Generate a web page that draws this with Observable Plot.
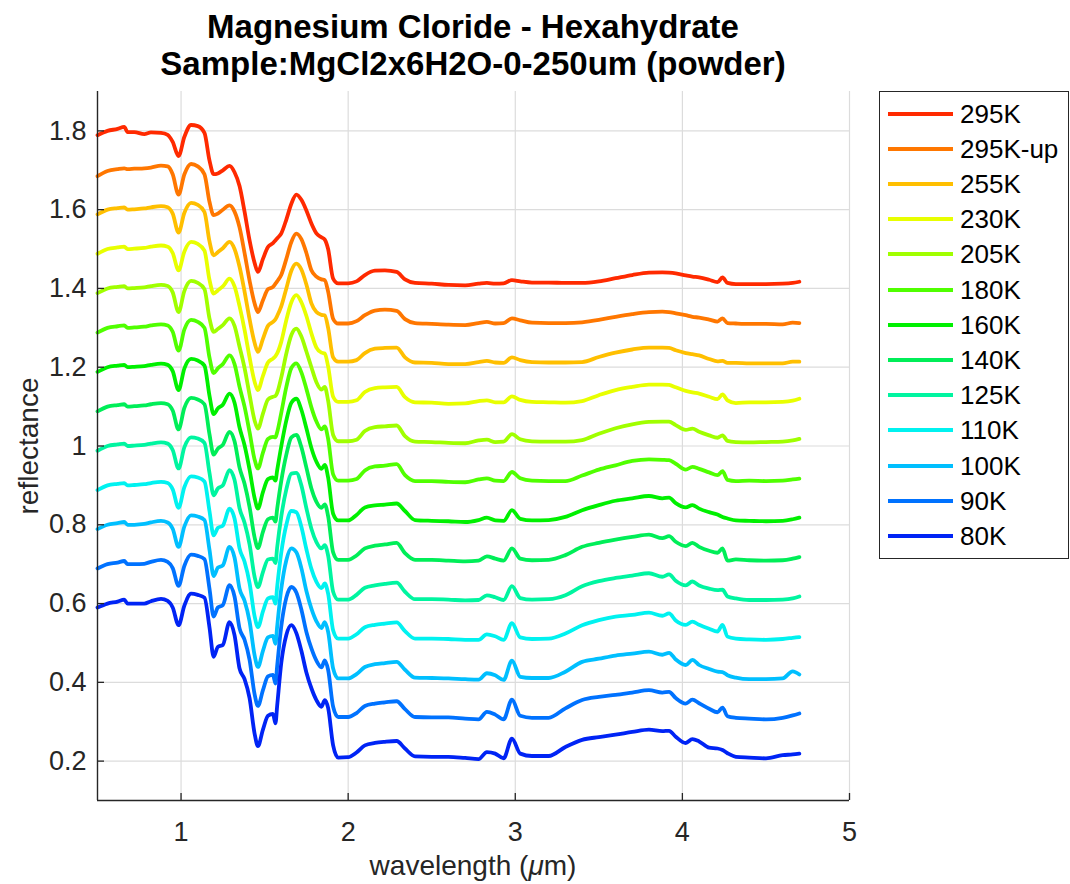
<!DOCTYPE html>
<html>
<head>
<meta charset="utf-8">
<script src="https://cdn.jsdelivr.net/npm/d3@7"></script>
<script src="https://cdn.jsdelivr.net/npm/@observablehq/plot@0.6"></script>
<style>
  html, body { margin: 0; padding: 0; background: #fff; }
  #wrap { position: relative; width: 1070px; height: 884px; overflow: hidden;
          font-family: "Liberation Sans", Arial, Helvetica, sans-serif; color: #262626; }
  #wrap svg { position: absolute; left: 0; top: 0; }
  .title { position: absolute; left: 97px; width: 752px; text-align: center;
           font-size: 33px; font-weight: bold; line-height: 37px; color: #000; white-space: nowrap; }
  .xlabel { position: absolute; left: 97px; width: 752px; top: 850px; text-align: center;
            font-size: 28px; line-height: 32px; white-space: nowrap; }
  .ylabel { position: absolute; width: 709px; left: -326px; top: 429.5px; text-align: center;
            font-size: 28px; line-height: 32px; transform: rotate(-90deg); transform-origin: 354.5px 16px; white-space: nowrap; }
  .legend { position: absolute; left: 879px; top: 91px; width: 190px; height: 468px;
            box-sizing: border-box; border: 1.2px solid #262626; background: #fff; }
  .lrow { position: absolute; left: 0; height: 32px; width: 100%; }
  .lsw { position: absolute; left: 8px; top: 14px; width: 65px; height: 4px; }
  .ltx { position: absolute; left: 80px; top: 0; font-size: 26px; line-height: 32px; color: #000; white-space: nowrap; }
</style>
</head>
<body>
<div id="wrap"></div>
<script>
// wavelength sampling (µm)
const wavelength = [0.50, 0.56, 0.62, 0.66, 0.68, 0.72, 0.78, 0.82, 0.88, 0.92, 0.95, 0.985, 1.02, 1.06, 1.10, 1.14, 1.17, 1.195, 1.22, 1.25, 1.29, 1.32, 1.35, 1.38, 1.41, 1.44, 1.46, 1.49, 1.52, 1.55, 1.565, 1.575, 1.60, 1.63, 1.66, 1.69, 1.72, 1.75, 1.78, 1.81, 1.84, 1.86, 1.88, 1.91, 1.94, 2.00,
  2.05, 2.10, 2.16, 2.22, 2.29, 2.34, 2.40, 2.50, 2.60, 2.70, 2.78, 2.83, 2.88, 2.93, 2.98, 3.03, 3.10, 3.20, 3.30, 3.40, 3.50, 3.60, 3.70, 3.80, 3.88, 3.92, 3.96, 4.02, 4.06, 4.10, 4.16, 4.21, 4.24, 4.27, 4.32, 4.40, 4.50, 4.60, 4.66, 4.70];

const seriesNames = ["295K", "295K-up", "255K", "230K", "205K", "180K", "160K", "140K", "125K", "110K", "100K", "90K", "80K"];
const seriesColors = ["#ff2a00", "#ff7700", "#ffbf00", "#e8ff00", "#a0ff00", "#50ff00", "#00f000", "#00ee58", "#00f5a0", "#00f2f0", "#00bfff", "#0072ff", "#0024f5"];

const r295K = [1.789, 1.800, 1.805, 1.810, 1.797, 1.797, 1.792, 1.796, 1.795, 1.790, 1.772, 1.736, 1.785, 1.815, 1.812, 1.795, 1.725, 1.690, 1.692, 1.700, 1.711, 1.695, 1.660, 1.595, 1.522, 1.465, 1.442, 1.475, 1.505, 1.515, 1.522, 1.527, 1.540, 1.575, 1.615, 1.638, 1.625, 1.598, 1.565, 1.540, 1.530, 1.524, 1.500, 1.425, 1.413, 1.413,
  1.418, 1.434, 1.445, 1.446, 1.442, 1.423, 1.414, 1.412, 1.409, 1.408, 1.412, 1.414, 1.412, 1.413, 1.421, 1.418, 1.415, 1.415, 1.414, 1.414, 1.418, 1.426, 1.434, 1.440, 1.441, 1.440, 1.438, 1.433, 1.430, 1.428, 1.422, 1.416, 1.428, 1.414, 1.411, 1.411, 1.411, 1.412, 1.414, 1.417];
const r295Kup = [1.685, 1.698, 1.703, 1.705, 1.703, 1.704, 1.705, 1.707, 1.712, 1.710, 1.690, 1.638, 1.690, 1.716, 1.710, 1.690, 1.620, 1.586, 1.590, 1.600, 1.611, 1.595, 1.555, 1.490, 1.420, 1.362, 1.340, 1.370, 1.398, 1.404, 1.412, 1.418, 1.435, 1.475, 1.518, 1.539, 1.525, 1.490, 1.446, 1.430, 1.423, 1.421, 1.392, 1.323, 1.311, 1.311,
  1.317, 1.332, 1.344, 1.346, 1.343, 1.322, 1.312, 1.310, 1.308, 1.307, 1.312, 1.315, 1.311, 1.312, 1.324, 1.319, 1.313, 1.312, 1.312, 1.314, 1.320, 1.328, 1.335, 1.340, 1.341, 1.340, 1.337, 1.332, 1.328, 1.326, 1.321, 1.316, 1.324, 1.312, 1.311, 1.310, 1.310, 1.309, 1.313, 1.312];
const r255K = [1.588, 1.600, 1.604, 1.606, 1.600, 1.601, 1.603, 1.606, 1.609, 1.606, 1.590, 1.542, 1.592, 1.617, 1.612, 1.594, 1.520, 1.484, 1.492, 1.502, 1.518, 1.500, 1.455, 1.392, 1.322, 1.262, 1.239, 1.272, 1.305, 1.315, 1.322, 1.330, 1.355, 1.400, 1.445, 1.463, 1.448, 1.410, 1.362, 1.340, 1.333, 1.332, 1.300, 1.225, 1.214, 1.214,
  1.218, 1.236, 1.247, 1.249, 1.250, 1.225, 1.212, 1.211, 1.208, 1.208, 1.213, 1.216, 1.212, 1.211, 1.225, 1.218, 1.213, 1.212, 1.212, 1.213, 1.226, 1.237, 1.245, 1.250, 1.250, 1.249, 1.243, 1.236, 1.233, 1.230, 1.221, 1.215, 1.216, 1.211, 1.211, 1.210, 1.210, 1.210, 1.214, 1.214];
const r230K = [1.488, 1.500, 1.504, 1.506, 1.500, 1.501, 1.503, 1.506, 1.509, 1.506, 1.490, 1.446, 1.494, 1.518, 1.513, 1.496, 1.422, 1.387, 1.395, 1.405, 1.425, 1.405, 1.355, 1.295, 1.225, 1.163, 1.142, 1.178, 1.212, 1.222, 1.228, 1.235, 1.265, 1.320, 1.365, 1.383, 1.365, 1.330, 1.286, 1.250, 1.237, 1.235, 1.202, 1.125, 1.112, 1.112,
  1.116, 1.137, 1.147, 1.149, 1.150, 1.124, 1.111, 1.110, 1.107, 1.108, 1.114, 1.116, 1.111, 1.111, 1.126, 1.117, 1.112, 1.111, 1.110, 1.114, 1.129, 1.142, 1.150, 1.156, 1.156, 1.155, 1.149, 1.140, 1.136, 1.133, 1.125, 1.119, 1.131, 1.116, 1.109, 1.111, 1.111, 1.112, 1.115, 1.120];
const r205K = [1.388, 1.400, 1.404, 1.406, 1.400, 1.401, 1.403, 1.406, 1.409, 1.406, 1.390, 1.340, 1.394, 1.419, 1.414, 1.398, 1.324, 1.290, 1.297, 1.307, 1.324, 1.305, 1.252, 1.198, 1.130, 1.065, 1.044, 1.082, 1.118, 1.125, 1.127, 1.135, 1.175, 1.235, 1.282, 1.298, 1.278, 1.240, 1.200, 1.162, 1.143, 1.150, 1.115, 1.028, 1.012, 1.012,
  1.016, 1.038, 1.048, 1.050, 1.052, 1.025, 1.011, 1.010, 1.008, 1.007, 1.014, 1.016, 1.010, 1.011, 1.030, 1.017, 1.012, 1.011, 1.011, 1.015, 1.031, 1.045, 1.055, 1.061, 1.062, 1.062, 1.053, 1.041, 1.044, 1.036, 1.027, 1.021, 1.027, 1.013, 1.010, 1.009, 1.010, 1.011, 1.014, 1.018];
const r180K = [1.288, 1.300, 1.304, 1.306, 1.300, 1.301, 1.303, 1.306, 1.309, 1.306, 1.290, 1.242, 1.296, 1.320, 1.315, 1.300, 1.225, 1.185, 1.197, 1.208, 1.230, 1.208, 1.150, 1.100, 1.035, 0.966, 0.943, 0.983, 1.018, 1.023, 1.022, 1.035, 1.085, 1.150, 1.198, 1.210, 1.187, 1.145, 1.098, 1.062, 1.042, 1.050, 1.018, 0.928, 0.912, 0.912,
  0.916, 0.938, 0.948, 0.950, 0.954, 0.926, 0.911, 0.911, 0.909, 0.908, 0.915, 0.918, 0.912, 0.911, 0.934, 0.918, 0.912, 0.911, 0.911, 0.925, 0.940, 0.951, 0.962, 0.966, 0.965, 0.964, 0.955, 0.940, 0.947, 0.942, 0.933, 0.926, 0.936, 0.914, 0.911, 0.912, 0.911, 0.912, 0.915, 0.917];
const r160K = [1.188, 1.200, 1.204, 1.206, 1.200, 1.201, 1.203, 1.206, 1.209, 1.206, 1.190, 1.142, 1.197, 1.221, 1.217, 1.204, 1.128, 1.081, 1.095, 1.105, 1.133, 1.110, 1.047, 1.002, 0.940, 0.868, 0.841, 0.883, 0.916, 0.920, 0.912, 0.938, 1.000, 1.065, 1.110, 1.120, 1.092, 1.045, 0.995, 0.960, 0.942, 0.952, 0.920, 0.828, 0.811, 0.811,
  0.825, 0.844, 0.849, 0.851, 0.854, 0.835, 0.812, 0.810, 0.809, 0.807, 0.812, 0.818, 0.811, 0.810, 0.837, 0.815, 0.811, 0.812, 0.820, 0.837, 0.850, 0.861, 0.867, 0.873, 0.867, 0.869, 0.855, 0.844, 0.850, 0.841, 0.832, 0.826, 0.820, 0.816, 0.811, 0.810, 0.809, 0.810, 0.814, 0.818];
const r140K = [1.088, 1.100, 1.104, 1.106, 1.100, 1.101, 1.103, 1.106, 1.109, 1.106, 1.090, 1.042, 1.097, 1.122, 1.118, 1.106, 1.030, 0.978, 0.993, 1.003, 1.036, 1.012, 0.945, 0.904, 0.845, 0.768, 0.741, 0.782, 0.814, 0.818, 0.808, 0.840, 0.912, 0.978, 1.022, 1.028, 0.997, 0.945, 0.892, 0.858, 0.843, 0.852, 0.822, 0.730, 0.711, 0.711,
  0.722, 0.740, 0.747, 0.750, 0.754, 0.728, 0.711, 0.711, 0.709, 0.707, 0.709, 0.720, 0.714, 0.709, 0.740, 0.714, 0.710, 0.711, 0.723, 0.744, 0.754, 0.762, 0.769, 0.775, 0.766, 0.771, 0.757, 0.746, 0.754, 0.744, 0.734, 0.729, 0.740, 0.709, 0.712, 0.710, 0.709, 0.710, 0.714, 0.718];
const r125K = [0.988, 1.000, 1.004, 1.006, 1.000, 1.001, 1.003, 1.006, 1.009, 1.006, 0.990, 0.943, 0.997, 1.022, 1.019, 1.008, 0.932, 0.875, 0.892, 0.900, 0.939, 0.914, 0.842, 0.805, 0.750, 0.668, 0.642, 0.680, 0.712, 0.714, 0.703, 0.742, 0.822, 0.890, 0.930, 0.932, 0.900, 0.842, 0.790, 0.756, 0.740, 0.748, 0.722, 0.630, 0.610, 0.610,
  0.622, 0.640, 0.646, 0.650, 0.653, 0.630, 0.611, 0.611, 0.610, 0.608, 0.609, 0.621, 0.616, 0.609, 0.644, 0.614, 0.610, 0.611, 0.621, 0.644, 0.657, 0.665, 0.671, 0.677, 0.668, 0.674, 0.658, 0.646, 0.656, 0.646, 0.638, 0.634, 0.635, 0.618, 0.613, 0.609, 0.609, 0.610, 0.613, 0.618];
const r110K = [0.888, 0.900, 0.904, 0.906, 0.900, 0.901, 0.903, 0.906, 0.909, 0.906, 0.890, 0.843, 0.896, 0.923, 0.920, 0.910, 0.835, 0.773, 0.792, 0.798, 0.841, 0.816, 0.740, 0.706, 0.652, 0.568, 0.540, 0.580, 0.613, 0.616, 0.600, 0.642, 0.730, 0.800, 0.835, 0.832, 0.795, 0.738, 0.688, 0.655, 0.639, 0.651, 0.625, 0.532, 0.511, 0.511,
  0.522, 0.540, 0.546, 0.549, 0.552, 0.530, 0.511, 0.511, 0.510, 0.508, 0.508, 0.522, 0.517, 0.508, 0.550, 0.514, 0.510, 0.511, 0.524, 0.545, 0.558, 0.567, 0.571, 0.577, 0.569, 0.575, 0.557, 0.546, 0.554, 0.546, 0.536, 0.529, 0.546, 0.516, 0.511, 0.509, 0.508, 0.510, 0.513, 0.515];
const r100K = [0.789, 0.800, 0.804, 0.807, 0.800, 0.800, 0.802, 0.806, 0.810, 0.806, 0.790, 0.744, 0.796, 0.824, 0.821, 0.812, 0.737, 0.670, 0.691, 0.697, 0.744, 0.717, 0.638, 0.607, 0.555, 0.469, 0.439, 0.480, 0.514, 0.518, 0.498, 0.541, 0.638, 0.710, 0.740, 0.730, 0.690, 0.632, 0.587, 0.555, 0.538, 0.553, 0.528, 0.435, 0.410, 0.410,
  0.421, 0.439, 0.446, 0.449, 0.452, 0.432, 0.412, 0.411, 0.410, 0.408, 0.407, 0.423, 0.418, 0.406, 0.455, 0.414, 0.411, 0.411, 0.427, 0.452, 0.460, 0.468, 0.473, 0.478, 0.470, 0.475, 0.458, 0.444, 0.457, 0.444, 0.434, 0.427, 0.426, 0.418, 0.412, 0.408, 0.408, 0.410, 0.428, 0.420];
const r90K = [0.689, 0.700, 0.704, 0.708, 0.700, 0.700, 0.701, 0.706, 0.711, 0.706, 0.690, 0.645, 0.696, 0.724, 0.721, 0.713, 0.638, 0.567, 0.590, 0.596, 0.647, 0.618, 0.537, 0.508, 0.457, 0.370, 0.340, 0.380, 0.415, 0.419, 0.397, 0.441, 0.543, 0.615, 0.642, 0.628, 0.585, 0.528, 0.486, 0.455, 0.438, 0.456, 0.432, 0.338, 0.312, 0.312,
  0.322, 0.340, 0.346, 0.349, 0.352, 0.332, 0.312, 0.311, 0.311, 0.308, 0.306, 0.325, 0.318, 0.306, 0.356, 0.315, 0.310, 0.310, 0.334, 0.355, 0.363, 0.368, 0.374, 0.380, 0.374, 0.376, 0.360, 0.346, 0.356, 0.347, 0.333, 0.324, 0.336, 0.314, 0.310, 0.308, 0.306, 0.310, 0.316, 0.321];
const r80K = [0.590, 0.600, 0.605, 0.610, 0.600, 0.600, 0.600, 0.606, 0.612, 0.607, 0.590, 0.545, 0.595, 0.625, 0.622, 0.615, 0.540, 0.465, 0.490, 0.495, 0.553, 0.520, 0.435, 0.408, 0.360, 0.270, 0.238, 0.280, 0.315, 0.320, 0.296, 0.340, 0.450, 0.520, 0.545, 0.525, 0.480, 0.425, 0.385, 0.355, 0.338, 0.355, 0.335, 0.240, 0.209, 0.210,
  0.222, 0.240, 0.246, 0.249, 0.251, 0.232, 0.212, 0.211, 0.211, 0.208, 0.205, 0.223, 0.219, 0.207, 0.257, 0.219, 0.213, 0.213, 0.236, 0.254, 0.261, 0.267, 0.274, 0.280, 0.276, 0.277, 0.262, 0.246, 0.256, 0.250, 0.234, 0.232, 0.228, 0.220, 0.211, 0.209, 0.207, 0.215, 0.217, 0.219];

const xTicks = [1, 2, 3, 4, 5];
const yTicks = [0.2, 0.4, 0.6, 0.8, 1, 1.2, 1.4, 1.6, 1.8];

const titleLines = ["Magnesium Cloride - Hexahydrate", "Sample:MgCl2x6H2O-0-250um (powder)"];

// build a long table for Plot
const seriesValues = [r295K, r295Kup, r255K, r230K, r205K, r180K, r160K, r140K, r125K, r110K, r100K, r90K, r80K];
const rows = [];
seriesNames.forEach((name, i) => {
  const v = seriesValues[i];
  const n = Math.min(v.length, wavelength.length);
  for (let j = 0; j < n; j++) rows.push({series: name, w: wavelength[j], r: v[j]});
});

const W = 1070, H = 884, mL = 97, mR = 221, mT = 91, mB = 84;
const innerW = W - mL - mR, innerH = H - mT - mB;
const font = '"Liberation Sans", Arial, Helvetica, sans-serif';
const ink = "#262626";

const chart = Plot.plot({
  width: W, height: H,
  marginLeft: mL, marginRight: mR, marginTop: mT, marginBottom: mB,
  style: {fontFamily: font, fontSize: "27px", color: ink, background: "transparent", overflow: "visible"},
  x: {domain: [0.5, 5]},
  y: {domain: [0.1, 1.9]},
  color: {domain: seriesNames, range: seriesColors},
  marks: [
    Plot.gridX(xTicks, {stroke: "#dcdcdc", strokeOpacity: 1, strokeWidth: 1.2}),
    Plot.gridY(yTicks, {stroke: "#dcdcdc", strokeOpacity: 1, strokeWidth: 1.2}),
    Plot.line(rows, {x: "w", y: "r", z: "series", stroke: "series", strokeWidth: 3.8, curve: "monotone-x", strokeLinejoin: "round", strokeLinecap: "round"}),
    Plot.ruleX(xTicks, {insetTop: innerH - 7, stroke: ink, strokeWidth: 1.3}),
    Plot.ruleY(yTicks, {insetRight: innerW - 7, stroke: ink, strokeWidth: 1.3}),
    Plot.ruleX([0.5], {stroke: ink, strokeWidth: 1.4}),
    Plot.ruleY([0.1], {stroke: ink, strokeWidth: 1.4}),
    Plot.axisX(xTicks, {tickSize: 0, tickPadding: 21, tickFormat: d => String(d), label: null, fill: ink, fontSize: 27}),
    Plot.axisY(yTicks, {tickSize: 0, tickPadding: 11, tickFormat: d => String(d), label: null, fill: ink, fontSize: 27})
  ]
});

const wrap = document.getElementById("wrap");
wrap.appendChild(chart);

// title
titleLines.forEach((t, i) => {
  const d = document.createElement("div");
  d.className = "title";
  d.style.top = (8 + i * 37) + "px";
  d.textContent = t;
  wrap.appendChild(d);
});

// axis labels
const xl = document.createElement("div");
xl.className = "xlabel";
xl.innerHTML = "wavelength (<i>\u03bc</i>m)";
wrap.appendChild(xl);

const yl = document.createElement("div");
yl.className = "ylabel";
yl.textContent = "reflectance";
wrap.appendChild(yl);

// legend
const lg = document.createElement("div");
lg.className = "legend";
seriesNames.forEach((name, i) => {
  const row = document.createElement("div");
  row.className = "lrow";
  row.style.top = (5.5 + i * 35.2) + "px";
  const sw = document.createElement("div");
  sw.className = "lsw";
  sw.style.background = seriesColors[i];
  const tx = document.createElement("div");
  tx.className = "ltx";
  tx.textContent = name;
  row.appendChild(sw);
  row.appendChild(tx);
  lg.appendChild(row);
});
wrap.appendChild(lg);
</script>
</body>
</html>
